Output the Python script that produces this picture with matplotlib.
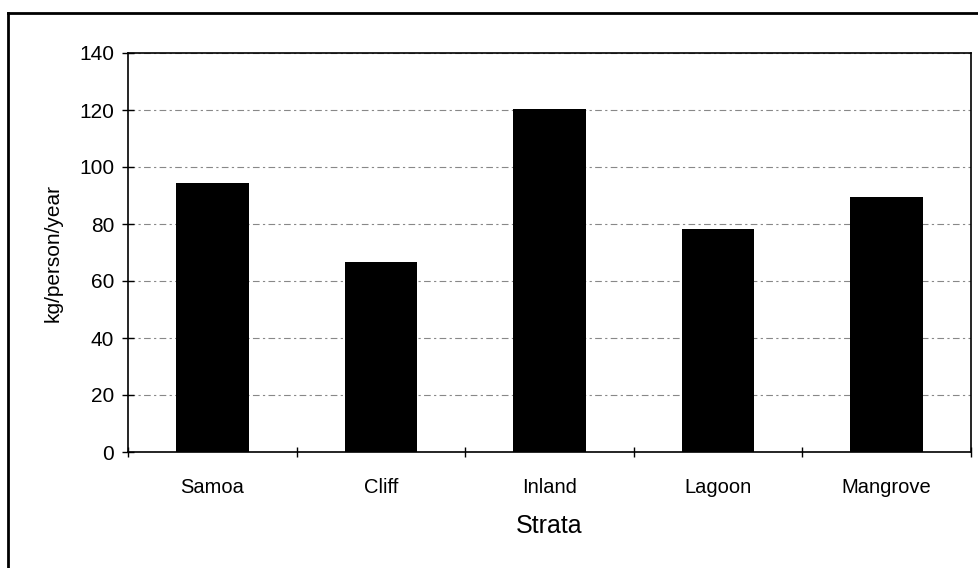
import numpy as np
import matplotlib
matplotlib.use("Agg")
import matplotlib.pyplot as plt
from matplotlib.lines import Line2D

strata = ["Samoa", "Cliff", "Inland", "Lagoon", "Mangrove"]
kg_per_person = [94.5, 66.5, 120.5, 78.3, 89.4]
yticks = [0, 20, 40, 60, 80, 100, 120, 140]

plt.rcParams["font.family"] = ["Liberation Sans", "DejaVu Sans"]

fig = plt.figure(figsize=(9.79, 5.68), dpi=100)
ax = fig.add_axes([128 / 979, 1 - 452 / 568, (971 - 128) / 979, (452 - 53) / 568])

x = np.arange(len(strata))
ax.bar(x, kg_per_person, width=0.43, color="black", zorder=3)

ax.set_xlim(-0.5, len(strata) - 0.5)
ax.set_ylim(0, 140)
ax.set_yticks(yticks)
ax.set_xticks(x)
ax.set_xticklabels(strata, fontsize=14.5)
ax.set_xticks(np.arange(-0.5, len(strata)), minor=True)
ax.tick_params(axis="x", which="major", length=0, pad=19)
ax.tick_params(axis="x", which="minor", length=7, direction="inout", width=1)
ax.tick_params(axis="y", labelsize=15, length=8, direction="inout", width=1, pad=6)
ax.yaxis.grid(True, color="#888888", lw=0.8, ls=(0, (6, 3, 2, 3)), zorder=0)

for s in ax.spines.values():
    s.set_linewidth(1.2)
    s.set_color("black")

ax.set_xlabel("Strata", fontsize=18, labelpad=12)
ax.set_ylabel("kg/person/year", fontsize=15, labelpad=12)

# outer chart frame (right and bottom edges fall outside the picture)
fig.add_artist(Line2D([8 / 979, 1], [1 - 13 / 568] * 2, color="black", lw=2))
fig.add_artist(Line2D([8 / 979] * 2, [0, 1 - 13 / 568], color="black", lw=2))

fig.savefig("out.png", dpi=100, facecolor="white")
